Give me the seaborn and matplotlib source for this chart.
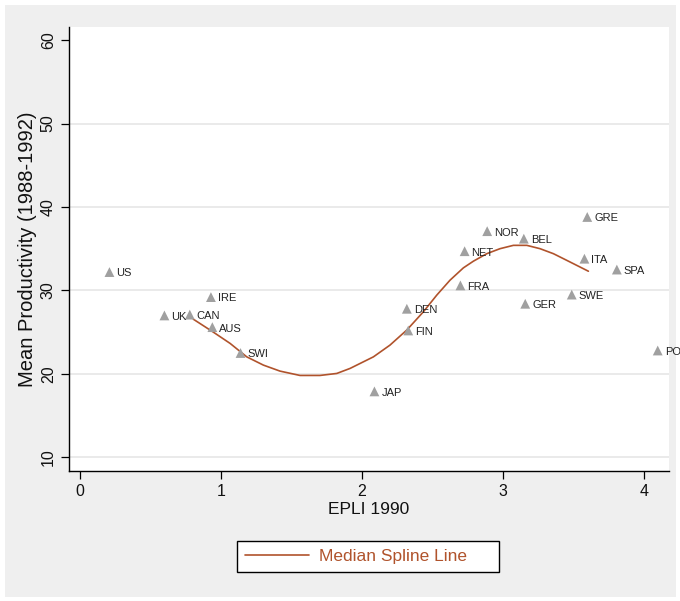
import matplotlib
matplotlib.use("Agg")
import matplotlib.pyplot as plt
from matplotlib.patches import Rectangle
import seaborn as sns
import pandas as pd

# ---- data ----
countries = ["US", "UK", "CAN", "IRE", "AUS", "SWI", "JAP", "DEN", "FIN", "FRA",
             "NET", "NOR", "BEL", "GER", "SWE", "ITA", "GRE", "SPA", "POR"]
epli = [0.21, 0.60, 0.78, 0.93, 0.94, 1.14, 2.09, 2.32, 2.33, 2.70,
        2.73, 2.89, 3.15, 3.16, 3.49, 3.58, 3.60, 3.81, 4.10]
productivity = [32.2, 27.0, 27.1, 29.2, 25.6, 22.5, 17.9, 27.8, 25.2, 30.6,
                34.7, 37.1, 36.2, 28.4, 29.5, 33.8, 38.8, 32.5, 22.8]

spline_x = [0.805, 0.947, 1.066, 1.184, 1.302, 1.420, 1.562, 1.704, 1.823, 1.917,
            2.083, 2.200, 2.319, 2.437, 2.532, 2.626, 2.721, 2.792, 2.887, 2.981,
            3.076, 3.171, 3.265, 3.360, 3.455, 3.608]
spline_y = [26.55, 25.0, 23.65, 22.04, 21.05, 20.33, 19.81, 19.81, 20.05, 20.65,
            22.04, 23.44, 25.24, 27.43, 29.43, 31.22, 32.7, 33.5, 34.4, 35.0,
            35.4, 35.4, 35.0, 34.4, 33.6, 32.3]

x_ticks = [0, 1, 2, 3, 4]
y_ticks = [10, 20, 30, 40, 50, 60]
x_title = "EPLI 1990"
y_title = "Mean Productivity (1988-1992)"
legend_label = "Median Spline Line"

pts = pd.DataFrame({"country": countries, "epli": epli, "prod": productivity})
spl = pd.DataFrame({"x": spline_x, "y": spline_y})

# ---- style ----
sns.set_theme(style="white")
plt.rcParams["font.family"] = ["Liberation Sans", "DejaVu Sans"]

line_col = "#b0532c"
marker_col = "#a0a0a0"

fig = plt.figure(figsize=(6.8, 6.01), dpi=100)
fig.patch.set_facecolor("white")
fig.patches.append(Rectangle((5 / 680, 4 / 601), 671 / 680, 592 / 601,
                             transform=fig.transFigure, facecolor="#efefef",
                             edgecolor="none", zorder=-10))

ax = fig.add_axes([69 / 680, 130 / 601, 600 / 680, 444.3 / 601])
ax.set_facecolor("white")

sns.scatterplot(data=pts, x="epli", y="prod", marker="^", s=50, color=marker_col,
                edgecolor="none", linewidth=0, ax=ax, zorder=3, legend=False)
sns.lineplot(data=spl, x="x", y="y", sort=False, estimator=None, color=line_col,
             linewidth=1.2, ax=ax, label=legend_label, zorder=2)

for c, xv, yv in zip(countries, epli, productivity):
    ax.annotate(c, (xv, yv), xytext=(5.0, -1.0), textcoords="offset points",
                ha="left", va="center", fontsize=8.0,
                color="#222222", zorder=4, annotation_clip=False)

ax.set_xlim(-0.077, 4.18)
ax.set_ylim(8.36, 61.6)
ax.set_xticks(x_ticks)
ax.set_yticks(y_ticks)
ax.set_xticklabels([str(t) for t in x_ticks])
ax.set_yticklabels([str(t) for t in y_ticks], rotation=90, va="center")

ax.tick_params(axis="both", which="major", direction="out", length=5.5, width=0.9,
               color="black", labelsize=11.5, labelcolor="#111111", pad=4)
ax.tick_params(axis="x", bottom=True)
ax.tick_params(axis="y", left=True)

ax.yaxis.grid(True, color="#e6e6e6", linewidth=1.2)
ax.xaxis.grid(False)
ax.set_axisbelow(True)
gl = ax.get_ygridlines()
gl[-1].set_visible(False)

for side in ["top", "right"]:
    ax.spines[side].set_visible(False)
for side in ["left", "bottom"]:
    ax.spines[side].set_visible(True)
    ax.spines[side].set_color("black")
    ax.spines[side].set_linewidth(1.0)

ax.set_xlabel(x_title, fontsize=12.5, labelpad=2, color="#111111")
ax.set_ylabel(y_title, fontsize=14.5, labelpad=3, color="#111111")

handles, labels = ax.get_legend_handles_labels()
leg = ax.legend(handles, labels, loc="center",
                bbox_to_anchor=(237 / 680, 24 / 601, 262 / 680, 41 / 601),
                bbox_transform=fig.transFigure, mode="expand",
                fontsize=12.5, frameon=True, fancybox=False, framealpha=1,
                edgecolor="black", facecolor="white", handlelength=3.7,
                handletextpad=0.6, borderpad=0.45, borderaxespad=0)
leg.get_frame().set_linewidth(1.0)
for t in leg.get_texts():
    t.set_color(line_col)

fig.savefig("out.png", dpi=100, facecolor=fig.get_facecolor())
